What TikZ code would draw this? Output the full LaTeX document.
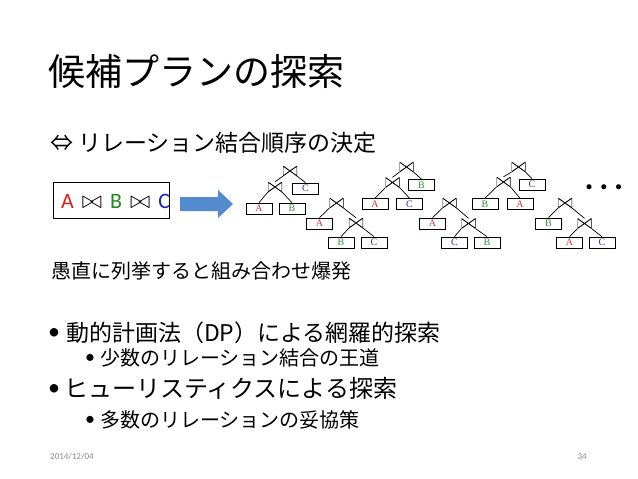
\documentclass[tikz,border=0pt]{standalone}
\usepackage{fontspec}
\setmainfont{Carlito}
\newfontfamily\jpfont{Noto Sans CJK JP}
\newfontfamily\treefont{Liberation Serif}
\usepackage{xcolor}
\usepackage{tikz}
\usetikzlibrary{positioning}

\definecolor{qred}{RGB}{220,30,30}
\definecolor{qgreen}{RGB}{30,140,30}
\definecolor{qblue}{RGB}{30,30,200}
\definecolor{tred}{RGB}{215,50,50}
\definecolor{tgreen}{RGB}{50,150,50}
\definecolor{tblue}{RGB}{50,50,180}
\definecolor{arrowblue}{RGB}{84,138,206}
\definecolor{footgray}{RGB}{140,140,140}

\tikzset{
  rel/.style={draw, rectangle, line width=0.7pt, minimum width=26pt, minimum height=11pt,
    inner sep=0pt, font=\treefont\fontsize{10}{10}\selectfont},
  joinop/.style={minimum width=14pt, minimum height=10pt, inner sep=0pt,
    path picture={\draw[line width=0.9pt] (path picture bounding box.south west)
      -- (path picture bounding box.north west) -- (path picture bounding box.south east)
      -- (path picture bounding box.north east) -- cycle;}},
  edge/.style={line width=0.7pt},
  line/.style={anchor=west, inner sep=0pt}
}

\begin{document}
\begin{tikzpicture}[x=1pt, y=-1pt]

\fill[white] (0,0) rectangle (638,479);
\useasboundingbox (0,0) rectangle (638,479);

% title and lead
\node (title) [line, font=\jpfont\fontsize{37}{37}\selectfont] at (48,71) {候補プランの探索};
\node (equiv) [line, font=\jpfont\fontsize{23}{23}\selectfont] at (50,143) {⇔ リレーション結合順序の決定};

% query box and arrow
\node (query) [draw, line width=0.7pt, anchor=west, minimum width=116pt, minimum height=36pt, inner sep=0pt] at (53,200) {};
\node (querytext) [line, font=\fontsize{22}{22}\selectfont] at (61,201)
  {\textcolor{qred}{A}\hspace{8pt}{\fontsize{32}{32}\selectfont$\bowtie$}\hspace{8pt}\textcolor{qgreen}{B}\hspace{8pt}{\fontsize{32}{32}\selectfont$\bowtie$}\hspace{8pt}\textcolor{qblue}{C}};
\fill[arrowblue] (180,197) -- (218,197) -- (218,190) -- (233,204) -- (218,218) -- (218,211) -- (180,211) -- cycle;

% (A B) C
\node (t1j1) [joinop] at (290,171) {};
\node (t1j2) [joinop] at (275,187) {};
\node (t1c) [rel, text=tblue] at (305.5,188.5) {C};
\node (t1a) [rel, text=tred] at (259,208.5) {A};
\node (t1b) [rel, text=tgreen] at (292,208.5) {B};
\draw[edge] (t1j1.south west) -- (t1j2.north);
\draw[edge] (t1j1.south east) -- (t1c.north);
\draw[edge] (t1j2.south west) -- (t1a.north);
\draw[edge] (t1j2.south east) -- (t1b.north);

% A (B C)
\node (t2j1) [joinop] at (336.5,203) {};
\node (t2a) [rel, text=tred] at (319.5,223.5) {A};
\node (t2j2) [joinop] at (356,223) {};
\node (t2b) [rel, text=tgreen] at (341,242.5) {B};
\node (t2c) [rel, text=tblue] at (374,242.5) {C};
\draw[edge] (t2j1.south west) -- (t2a.north);
\draw[edge] (t2j1.south east) -- (t2j2.north);
\draw[edge] (t2j2.south west) -- (t2b.north);
\draw[edge] (t2j2.south east) -- (t2c.north);

% (A C) B
\node (t3j1) [joinop] at (406.5,167) {};
\node (t3j2) [joinop] at (392.5,182.5) {};
\node (t3b) [rel, text=tgreen] at (421.5,185) {B};
\node (t3a) [rel, text=tred] at (375,204) {A};
\node (t3c) [rel, text=tblue] at (409.5,204) {C};
\draw[edge] (t3j1.south west) -- (t3j2.north);
\draw[edge] (t3j1.south east) -- (t3b.north);
\draw[edge] (t3j2.south west) -- (t3a.north);
\draw[edge] (t3j2.south east) -- (t3c.north);

% A (C B)
\node (t4j1) [joinop] at (449.5,203) {};
\node (t4a) [rel, text=tred] at (432.5,223.5) {A};
\node (t4j2) [joinop] at (468.5,223.5) {};
\node (t4c) [rel, text=tblue] at (454.5,242.5) {C};
\node (t4b) [rel, text=tgreen] at (487,242.5) {B};
\draw[edge] (t4j1.south west) -- (t4a.north);
\draw[edge] (t4j1.south east) -- (t4j2.north);
\draw[edge] (t4j2.south west) -- (t4c.north);
\draw[edge] (t4j2.south east) -- (t4b.north);

% (B A) C
\node (t5j1) [joinop] at (518.5,167) {};
\node (t5j2) [joinop] at (503.5,182) {};
\node (t5c) [rel, text=tblue] at (532,184.5) {C};
\node (t5b) [rel, text=tgreen] at (485,204) {B};
\node (t5a) [rel, text=tred] at (520,204) {A};
\draw[edge] (t5j1.south west) -- (t5j2.north);
\draw[edge] (t5j1.south east) -- (t5c.north);
\draw[edge] (t5j2.south west) -- (t5b.north);
\draw[edge] (t5j2.south east) -- (t5a.north);

% B (A C)
\node (t6j1) [joinop] at (565,203) {};
\node (t6b) [rel, text=tgreen] at (548.5,223.5) {B};
\node (t6j2) [joinop] at (584.5,223.5) {};
\node (t6a) [rel, text=tred] at (569.5,242.5) {A};
\node (t6c) [rel, text=tblue] at (602,242.5) {C};
\draw[edge] (t6j1.south west) -- (t6b.north);
\draw[edge] (t6j1.south east) -- (t6j2.north);
\draw[edge] (t6j2.south west) -- (t6a.north);
\draw[edge] (t6j2.south east) -- (t6c.north);

\node (more) [font=\bfseries\fontsize{34}{34}\selectfont, inner sep=0pt] at (604,187) {.\,.\,.};

% remarks
\node (naive) [line, font=\jpfont\fontsize{20}{20}\selectfont] at (51,271) {愚直に列挙すると組み合わせ爆発};
\node (dp) [line, font=\fontsize{24}{24}\selectfont] at (48,333) {\raisebox{2pt}{•}\hspace{6pt}\jpfont\fontsize{23}{23}\selectfont 動的計画法（DP）による網羅的探索};
\node (dpsub) [line, font=\fontsize{20}{20}\selectfont] at (85,358) {\raisebox{2pt}{•}\hspace{5pt}\jpfont 少数のリレーション結合の王道};
\node (heur) [line, font=\fontsize{24}{24}\selectfont] at (48,388) {\raisebox{2pt}{•}\hspace{4pt}\jpfont ヒューリスティクスによる探索};
\node (heursub) [line, font=\fontsize{20}{20}\selectfont] at (85,420) {\raisebox{2pt}{•}\hspace{5pt}\jpfont 多数のリレーションの妥協策};

% footer
\node (date) [line, font=\fontsize{9}{9}\selectfont, text=footgray] at (50,457) {2014/12/04};
\node (page) [anchor=east, inner sep=0pt, font=\fontsize{9}{9}\selectfont, text=footgray] at (587,457) {34};

\end{tikzpicture}
\end{document}
